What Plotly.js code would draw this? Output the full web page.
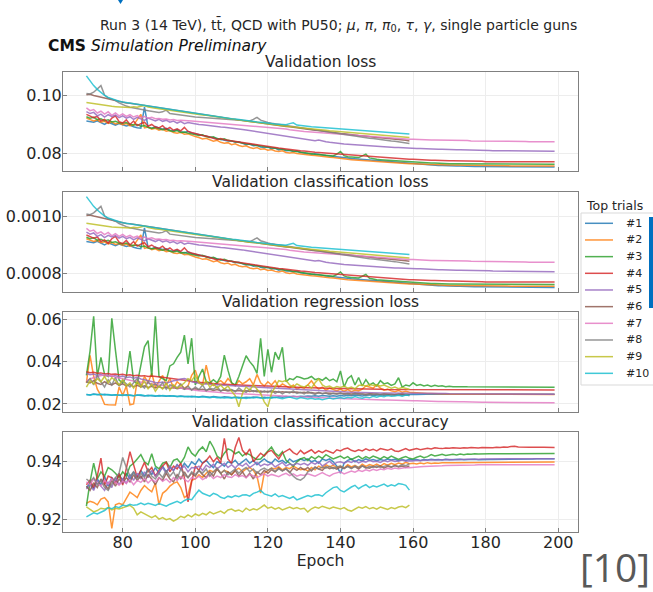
<!DOCTYPE html>
<html><head><meta charset="utf-8">
<script src="https://cdn.plot.ly/plotly-3.0.1.min.js"></script>
<style>html,body{margin:0;padding:0;background:#fff;}#chart{width:653px;height:592px;}</style>
</head><body><div id="chart"></div>
<script>
const epochs = [70,71,72,73,74,75,76,77,78,79,80,81,82,83,84,85,86,87,88,89,90,91,92,93,94,95,96,97,98,99,
100,101,102,103,104,105,106,107,108,109,110,111,112,113,114,115,116,117,118,119,120,121,122,123,124,125,126,127,128,129,
130,131,132,133,134,135,136,137,138,139,140,141,142,143,144,145,146,147,148,149,150,151,152,153,154,155,156,157,158,159,
160,161,162,163,164,165,166,167,168,169,170,171,172,173,174,175,176,177,178,179,180,181,182,183,184,185,186,187,188,189,
190,191,192,193,194,195,196,197,198,199];
const trials = ['#1','#2','#3','#4','#5','#6','#7','#8','#9','#10'];
const colors = ['#1f77b4','#ff7f0e','#2ca02c','#d62728','#9467bd','#8c564b','#e377c2','#7f7f7f','#bcbd22','#17becf'];
const panelTitles = ['Validation loss','Validation classification loss','Validation regression loss','Validation classification accuracy'];

// ---- Validation loss ----
const lossT1 = [.0912,.0910,.0908,.0913,.0905,.0900,.0908,.0902,.0898,.0903,.0900,.0895,.0898,.0892,.0889,.0887,.0960,.0890,.0886,.0893,
.0888,.0884,.0887,.0880,.0878,.0882,.0875,.0872,.0876,.0870,.0868,.0865,.0862,.0860,.0856,.0853,.0851,.0848,.0846,.0843,
.0843,.0838,.0840,.0834,.0830,.0832,.0826,.0828,.0822,.0820,.0822,.0816,.0818,.0812,.0815,.0809,.0810,.0806,.0808,.0803,
.0801,.0800,.0797,.0798,.0795,.0794,.0792,.0791,.0789,.0788,.0787,.0785,.0784,.0782,.0781,.0780,.0778,.0777,.0776,.0775,
.0774,.0772,.0771,.0770,.0769,.0768,.0767,.0766,.0765,.0764,.0763,.0762,.0761,.0761,.0760,.0759,.0759,.0758,.0758,.0757,
.0757,.0756,.0756,.0756,.0755,.0755,.0755,.0754,.0754,.0754,.0754,.0753,.0753,.0753,.0753,.0753,.0752,.0752,.0752,.0752,
.0752,.0752,.0752,.0752,.0752,.0752,.0752,.0752,.0752,.0752];
const lossT2 = [.0922,.0918,.0912,.0916,.0908,.0911,.0904,.0909,.0902,.0905,.0899,.0903,.0896,.0898,.0915,.0935,.0888,.0891,.0884,.0887,
.0880,.0883,.0877,.0879,.0872,.0870,.0873,.0866,.0868,.0862,.0858,.0855,.0850,.0852,.0846,.0842,.0845,.0838,.0835,.0837,
.0830,.0833,.0827,.0824,.0826,.0820,.0817,.0820,.0814,.0816,.0811,.0813,.0808,.0806,.0809,.0803,.0801,.0803,.0799,.0797,
.0797,.0795,.0793,.0792,.0790,.0789,.0787,.0786,.0785,.0783,.0782,.0781,.0779,.0778,.0777,.0776,.0775,.0774,.0773,.0772,
.0771,.0770,.0769,.0768,.0767,.0767,.0766,.0765,.0765,.0764,.0764,.0763,.0763,.0762,.0762,.0761,.0761,.0760,.0760,.0760,
.0759,.0759,.0759,.0758,.0758,.0758,.0758,.0758,.0757,.0757,.0757,.0757,.0757,.0757,.0757,.0757,.0757,.0756,.0756,.0756,
.0756,.0756,.0756,.0756,.0756,.0756,.0756,.0756,.0756,.0756];
const lossT3 = [.0927,.0922,.0925,.0917,.0920,.0913,.0916,.0909,.0911,.0906,.0904,.0907,.0901,.0898,.0900,.0894,.0896,.0890,.0887,.0889,
.0885,.0882,.0884,.0878,.0876,.0879,.0872,.0874,.0870,.0867,.0866,.0862,.0864,.0858,.0855,.0857,.0851,.0848,.0850,.0845,
.0843,.0840,.0838,.0836,.0833,.0831,.0829,.0827,.0825,.0823,.0821,.0819,.0817,.0815,.0813,.0811,.0809,.0807,.0805,.0803,
.0802,.0800,.0799,.0797,.0796,.0795,.0793,.0792,.0791,.0797,.0806,.0792,.0788,.0787,.0786,.0785,.0791,.0797,.0784,.0781,
.0779,.0778,.0777,.0776,.0775,.0774,.0773,.0772,.0771,.0770,.0769,.0768,.0768,.0767,.0767,.0766,.0766,.0765,.0765,.0765,
.0764,.0764,.0764,.0764,.0763,.0763,.0763,.0763,.0763,.0763,.0763,.0763,.0763,.0763,.0763,.0763,.0763,.0763,.0763,.0763,
.0763,.0763,.0763,.0762,.0762,.0762,.0762,.0762,.0762,.0762];
const lossT4 = [.0935,.0930,.0924,.0928,.0912,.0918,.0906,.0922,.0930,.0910,.0905,.0916,.0900,.0912,.0896,.0903,.0908,.0894,.0900,.0891,
.0888,.0896,.0883,.0890,.0880,.0885,.0878,.0890,.0876,.0872,.0868,.0865,.0862,.0860,.0857,.0852,.0848,.0851,.0847,.0845,
.0842,.0840,.0838,.0836,.0834,.0832,.0830,.0828,.0826,.0825,.0823,.0821,.0820,.0818,.0817,.0815,.0813,.0812,.0810,.0809,
.0808,.0806,.0805,.0804,.0803,.0802,.0800,.0799,.0798,.0797,.0796,.0795,.0794,.0793,.0792,.0791,.0790,.0789,.0788,.0787,
.0786,.0785,.0784,.0784,.0783,.0782,.0781,.0781,.0780,.0779,.0779,.0778,.0778,.0777,.0777,.0776,.0776,.0775,.0775,.0775,
.0774,.0774,.0774,.0773,.0773,.0773,.0772,.0772,.0772,.0772,.0771,.0771,.0771,.0771,.0771,.0771,.0771,.0771,.0771,.0771,
.0771,.0771,.0771,.0771,.0771,.0771,.0771,.0771,.0771,.0771];
const lossT5 = [.0945,.0938,.0942,.0930,.0936,.0926,.0934,.0928,.0933,.0924,.0930,.0922,.0927,.0918,.0925,.0920,.0914,.0922,.0917,.0912,
.0918,.0911,.0915,.0908,.0912,.0905,.0910,.0903,.0907,.0904,.0902,.0900,.0899,.0897,.0896,.0894,.0893,.0891,.0890,.0889,
.0888,.0886,.0884,.0883,.0881,.0879,.0877,.0875,.0873,.0871,.0869,.0868,.0866,.0864,.0862,.0860,.0858,.0856,.0854,.0851,
.0849,.0847,.0846,.0844,.0846,.0842,.0840,.0838,.0836,.0834,.0833,.0832,.0831,.0830,.0829,.0828,.0827,.0826,.0825,.0824,
.0824,.0823,.0822,.0822,.0821,.0820,.0820,.0819,.0819,.0818,.0818,.0817,.0817,.0816,.0816,.0815,.0815,.0814,.0814,.0813,
.0813,.0813,.0812,.0812,.0812,.0811,.0811,.0811,.0810,.0810,.0810,.0810,.0809,.0809,.0809,.0809,.0808,.0808,.0808,.0808,
.0808,.0807,.0807,.0807,.0807,.0807,.0807,.0807,.0807,.0807];
const lossT6 = [.1003,.1005,.1001,.0998,.0995,.0991,.0988,.0986,.0983,.0980,.0977,.0975,.0974,.0972,.0970,.0968,.0966,.0964,.0962,.0960,
.0958,.0956,.0954,.0952,.0950,.0948,.0946,.0944,.0942,.0940,.0938,.0936,.0934,.0932,.0930,.0928,.0926,.0924,.0922,.0920,
.0918,.0917,.0915,.0914,.0912,.0910,.0909,.0907,.0905,.0904,.0902,.0900,.0899,.0897,.0895,.0893,.0892,.0890,.0888,.0887,
.0885,.0884,.0882,.0880,.0879,.0877,.0876,.0874,.0872,.0871,.0869,.0868,.0866,.0865,.0863,.0862,.0861,.0859,.0858,.0857,
.0855,.0854,.0853,.0851,.0850,.0849,.0848,.0846,.0845,.0843];
const lossT7 = [.0958,.0948,.0952,.0940,.0946,.0936,.0944,.0932,.0940,.0930,.0937,.0928,.0934,.0926,.0931,.0924,.0928,.0922,.0925,.0920,
.0921,.0918,.0919,.0916,.0917,.0914,.0915,.0913,.0913,.0912,.0911,.0910,.0909,.0908,.0907,.0906,.0905,.0904,.0903,.0902,
.0901,.0900,.0899,.0898,.0897,.0896,.0895,.0894,.0892,.0891,.0889,.0888,.0887,.0886,.0885,.0884,.0882,.0880,.0879,.0877,
.0876,.0875,.0874,.0873,.0872,.0871,.0870,.0869,.0868,.0867,.0866,.0865,.0864,.0863,.0862,.0861,.0860,.0860,.0859,.0858,
.0857,.0856,.0855,.0854,.0853,.0852,.0852,.0851,.0850,.0849,.0849,.0848,.0848,.0847,.0847,.0846,.0846,.0846,.0845,.0845,
.0845,.0845,.0844,.0844,.0844,.0844,.0843,.0843,.0843,.0843,.0843,.0842,.0842,.0842,.0842,.0842,.0841,.0841,.0841,.0841,
.0841,.0841,.0840,.0840,.0840,.0840,.0840,.0840,.0840,.0840];
const lossT8 = [.1008,.1006,.1012,.1025,.1035,.1002,.0992,.0988,.0983,.0975,.0968,.0964,.0960,.0957,.0955,.0952,.0950,.0948,.0946,.0945,
.0942,.0944,.0950,.0938,.0936,.0934,.0933,.0931,.0930,.0928,.0926,.0925,.0924,.0922,.0921,.0920,.0919,.0918,.0917,.0916,
.0915,.0914,.0913,.0912,.0911,.0912,.0918,.0925,.0915,.0910,.0907,.0904,.0902,.0900,.0898,.0896,.0894,.0892,.0890,.0888,
.0886,.0884,.0882,.0880,.0878,.0876,.0874,.0872,.0870,.0868,.0866,.0864,.0862,.0861,.0859,.0857,.0856,.0854,.0852,.0851,
.0849,.0848,.0846,.0845,.0843,.0842,.0840,.0838,.0836,.0834];
const lossT9 = [.0976,.0974,.0971,.0969,.0967,.0966,.0964,.0963,.0962,.0961,.0960,.0961,.0959,.0962,.0960,.0963,.0966,.0961,.0958,.0956,
.0955,.0953,.0951,.0950,.0948,.0946,.0944,.0942,.0941,.0939,.0937,.0935,.0933,.0932,.0930,.0928,.0926,.0924,.0922,.0920,
.0918,.0917,.0915,.0914,.0912,.0910,.0909,.0907,.0905,.0904,.0902,.0900,.0899,.0897,.0896,.0894,.0893,.0891,.0890,.0889,
.0888,.0886,.0885,.0884,.0882,.0881,.0880,.0878,.0877,.0876,.0875,.0874,.0873,.0871,.0870,.0869,.0868,.0867,.0866,.0865,
.0864,.0863,.0862,.0861,.0860,.0859,.0858,.0857,.0856,.0855];
const lossT10 = [.1069,.1050,.1035,.1022,.1010,.1001,.0994,.0989,.0985,.0981,.0978,.0976,.0974,.0972,.0970,.0968,.0967,.0965,.0964,.0962,
.0960,.0958,.0956,.0954,.0952,.0950,.0948,.0946,.0944,.0942,.0940,.0938,.0936,.0934,.0932,.0930,.0928,.0926,.0924,.0922,
.0920,.0919,.0917,.0916,.0914,.0912,.0911,.0909,.0908,.0906,.0905,.0903,.0902,.0901,.0900,.0899,.0903,.0906,.0898,.0896,
.0895,.0893,.0892,.0891,.0890,.0889,.0888,.0887,.0886,.0885,.0884,.0883,.0882,.0881,.0880,.0879,.0878,.0877,.0876,.0875,
.0875,.0874,.0873,.0872,.0871,.0871,.0870,.0869,.0868,.0867];

// ---- Validation classification loss ----
const clsT1 = [.000912,.000910,.000908,.000913,.000905,.000900,.000908,.000902,.000898,.000903,.000900,.000895,.000898,.000892,.000889,.000887,.000960,.000890,.000886,.000893,
.000888,.000884,.000887,.000880,.000878,.000882,.000875,.000872,.000876,.000870,.000868,.000865,.000862,.000860,.000856,.000853,.000851,.000848,.000846,.000843,
.000843,.000838,.000840,.000834,.000830,.000832,.000826,.000828,.000822,.000820,.000822,.000816,.000818,.000812,.000815,.000809,.000810,.000806,.000808,.000803,
.000801,.000800,.000797,.000798,.000795,.000794,.000792,.000791,.000789,.000788,.000787,.000785,.000784,.000782,.000781,.000780,.000778,.000777,.000776,.000775,
.000774,.000772,.000771,.000770,.000769,.000768,.000767,.000766,.000765,.000764,.000763,.000762,.000761,.000761,.000760,.000759,.000759,.000758,.000758,.000757,
.000757,.000756,.000756,.000756,.000755,.000755,.000755,.000754,.000754,.000754,.000754,.000753,.000753,.000753,.000753,.000753,.000752,.000752,.000752,.000752,
.000752,.000752,.000752,.000752,.000752,.000752,.000752,.000752,.000752,.000752];
const clsT2 = [.000922,.000918,.000912,.000916,.000908,.000911,.000904,.000909,.000902,.000905,.000899,.000903,.000896,.000898,.000915,.000935,.000888,.000891,.000884,.000887,
.000880,.000883,.000877,.000879,.000872,.000870,.000873,.000866,.000868,.000862,.000858,.000855,.000850,.000852,.000846,.000842,.000845,.000838,.000835,.000837,
.000830,.000833,.000827,.000824,.000826,.000820,.000817,.000820,.000814,.000816,.000811,.000813,.000808,.000806,.000809,.000803,.000801,.000803,.000799,.000797,
.000797,.000795,.000793,.000792,.000790,.000789,.000787,.000786,.000785,.000783,.000782,.000781,.000779,.000778,.000777,.000776,.000775,.000774,.000773,.000772,
.000771,.000770,.000769,.000768,.000767,.000767,.000766,.000765,.000765,.000764,.000764,.000763,.000763,.000762,.000762,.000761,.000761,.000760,.000760,.000760,
.000759,.000759,.000759,.000758,.000758,.000758,.000758,.000758,.000757,.000757,.000757,.000757,.000757,.000757,.000757,.000757,.000757,.000756,.000756,.000756,
.000756,.000756,.000756,.000756,.000756,.000756,.000756,.000756,.000756,.000756];
const clsT3 = [.000927,.000922,.000925,.000917,.000920,.000913,.000916,.000909,.000911,.000906,.000904,.000907,.000901,.000898,.000900,.000894,.000896,.000890,.000887,.000889,
.000885,.000882,.000884,.000878,.000876,.000879,.000872,.000874,.000870,.000867,.000866,.000862,.000864,.000858,.000855,.000857,.000851,.000848,.000850,.000845,
.000843,.000840,.000838,.000836,.000833,.000831,.000829,.000827,.000825,.000823,.000821,.000819,.000817,.000815,.000813,.000811,.000809,.000807,.000805,.000803,
.000802,.000800,.000799,.000797,.000796,.000795,.000793,.000792,.000791,.000797,.000806,.000792,.000788,.000787,.000786,.000785,.000791,.000797,.000784,.000781,
.000779,.000778,.000777,.000776,.000775,.000774,.000773,.000772,.000771,.000770,.000769,.000768,.000768,.000767,.000767,.000766,.000766,.000765,.000765,.000765,
.000764,.000764,.000764,.000764,.000763,.000763,.000763,.000763,.000763,.000763,.000763,.000763,.000763,.000763,.000763,.000763,.000763,.000763,.000763,.000763,
.000763,.000763,.000763,.000762,.000762,.000762,.000762,.000762,.000762,.000762];
const clsT4 = [.000935,.000930,.000924,.000928,.000912,.000918,.000906,.000922,.000930,.000910,.000905,.000916,.000900,.000912,.000896,.000903,.000908,.000894,.000900,.000891,
.000888,.000896,.000883,.000890,.000880,.000885,.000878,.000890,.000876,.000872,.000868,.000865,.000862,.000860,.000857,.000852,.000848,.000851,.000847,.000845,
.000842,.000840,.000838,.000836,.000834,.000832,.000830,.000828,.000826,.000825,.000823,.000821,.000820,.000818,.000817,.000815,.000813,.000812,.000810,.000809,
.000808,.000806,.000805,.000804,.000803,.000802,.000800,.000799,.000798,.000797,.000796,.000795,.000794,.000793,.000792,.000791,.000790,.000789,.000788,.000787,
.000786,.000785,.000784,.000784,.000783,.000782,.000781,.000781,.000780,.000779,.000779,.000778,.000778,.000777,.000777,.000776,.000776,.000775,.000775,.000775,
.000774,.000774,.000774,.000773,.000773,.000773,.000772,.000772,.000772,.000772,.000771,.000771,.000771,.000771,.000771,.000771,.000771,.000771,.000771,.000771,
.000771,.000771,.000771,.000771,.000771,.000771,.000771,.000771,.000771,.000771];
const clsT5 = [.000945,.000938,.000942,.000930,.000936,.000926,.000934,.000928,.000933,.000924,.000930,.000922,.000927,.000918,.000925,.000920,.000914,.000922,.000917,.000912,
.000918,.000911,.000915,.000908,.000912,.000905,.000910,.000903,.000907,.000904,.000902,.000900,.000899,.000897,.000896,.000894,.000893,.000891,.000890,.000889,
.000888,.000886,.000884,.000883,.000881,.000879,.000877,.000875,.000873,.000871,.000869,.000868,.000866,.000864,.000862,.000860,.000858,.000856,.000854,.000851,
.000849,.000847,.000846,.000844,.000846,.000842,.000840,.000838,.000836,.000834,.000833,.000832,.000831,.000830,.000829,.000828,.000827,.000826,.000825,.000824,
.000824,.000823,.000822,.000822,.000821,.000820,.000820,.000819,.000819,.000818,.000818,.000817,.000817,.000816,.000816,.000815,.000815,.000814,.000814,.000813,
.000813,.000813,.000812,.000812,.000812,.000811,.000811,.000811,.000810,.000810,.000810,.000810,.000809,.000809,.000809,.000809,.000808,.000808,.000808,.000808,
.000808,.000807,.000807,.000807,.000807,.000807,.000807,.000807,.000807,.000807];
const clsT6 = [.001003,.001005,.001001,.000998,.000995,.000991,.000988,.000986,.000983,.000980,.000977,.000975,.000974,.000972,.000970,.000968,.000966,.000964,.000962,.000960,
.000958,.000956,.000954,.000952,.000950,.000948,.000946,.000944,.000942,.000940,.000938,.000936,.000934,.000932,.000930,.000928,.000926,.000924,.000922,.000920,
.000918,.000917,.000915,.000914,.000912,.000910,.000909,.000907,.000905,.000904,.000902,.000900,.000899,.000897,.000895,.000893,.000892,.000890,.000888,.000887,
.000885,.000884,.000882,.000880,.000879,.000877,.000876,.000874,.000872,.000871,.000869,.000868,.000866,.000865,.000863,.000862,.000861,.000859,.000858,.000857,
.000855,.000854,.000853,.000851,.000850,.000849,.000848,.000846,.000845,.000843];
const clsT7 = [.000958,.000948,.000952,.000940,.000946,.000936,.000944,.000932,.000940,.000930,.000937,.000928,.000934,.000926,.000931,.000924,.000928,.000922,.000925,.000920,
.000921,.000918,.000919,.000916,.000917,.000914,.000915,.000913,.000913,.000912,.000911,.000910,.000909,.000908,.000907,.000906,.000905,.000904,.000903,.000902,
.000901,.000900,.000899,.000898,.000897,.000896,.000895,.000894,.000892,.000891,.000889,.000888,.000887,.000886,.000885,.000884,.000882,.000880,.000879,.000877,
.000876,.000875,.000874,.000873,.000872,.000871,.000870,.000869,.000868,.000867,.000866,.000865,.000864,.000863,.000862,.000861,.000860,.000860,.000859,.000858,
.000857,.000856,.000855,.000854,.000853,.000852,.000852,.000851,.000850,.000849,.000849,.000848,.000848,.000847,.000847,.000846,.000846,.000846,.000845,.000845,
.000845,.000845,.000844,.000844,.000844,.000844,.000843,.000843,.000843,.000843,.000843,.000842,.000842,.000842,.000842,.000842,.000841,.000841,.000841,.000841,
.000841,.000841,.000840,.000840,.000840,.000840,.000840,.000840,.000840,.000840];
const clsT8 = [.001008,.001006,.001012,.001025,.001035,.001002,.000992,.000988,.000983,.000975,.000968,.000964,.000960,.000957,.000955,.000952,.000950,.000948,.000946,.000945,
.000942,.000944,.000950,.000938,.000936,.000934,.000933,.000931,.000930,.000928,.000926,.000925,.000924,.000922,.000921,.000920,.000919,.000918,.000917,.000916,
.000915,.000914,.000913,.000912,.000911,.000912,.000918,.000925,.000915,.000910,.000907,.000904,.000902,.000900,.000898,.000896,.000894,.000892,.000890,.000888,
.000886,.000884,.000882,.000880,.000878,.000876,.000874,.000872,.000870,.000868,.000866,.000864,.000862,.000861,.000859,.000857,.000856,.000854,.000852,.000851,
.000849,.000848,.000846,.000845,.000843,.000842,.000840,.000838,.000836,.000834];
const clsT9 = [.000976,.000974,.000971,.000969,.000967,.000966,.000964,.000963,.000962,.000961,.000960,.000961,.000959,.000962,.000960,.000963,.000966,.000961,.000958,.000956,
.000955,.000953,.000951,.000950,.000948,.000946,.000944,.000942,.000941,.000939,.000937,.000935,.000933,.000932,.000930,.000928,.000926,.000924,.000922,.000920,
.000918,.000917,.000915,.000914,.000912,.000910,.000909,.000907,.000905,.000904,.000902,.000900,.000899,.000897,.000896,.000894,.000893,.000891,.000890,.000889,
.000888,.000886,.000885,.000884,.000882,.000881,.000880,.000878,.000877,.000876,.000875,.000874,.000873,.000871,.000870,.000869,.000868,.000867,.000866,.000865,
.000864,.000863,.000862,.000861,.000860,.000859,.000858,.000857,.000856,.000855];
const clsT10 = [.001069,.001050,.001035,.001022,.001010,.001001,.000994,.000989,.000985,.000981,.000978,.000976,.000974,.000972,.000970,.000968,.000967,.000965,.000964,.000962,
.000960,.000958,.000956,.000954,.000952,.000950,.000948,.000946,.000944,.000942,.000940,.000938,.000936,.000934,.000932,.000930,.000928,.000926,.000924,.000922,
.000920,.000919,.000917,.000916,.000914,.000912,.000911,.000909,.000908,.000906,.000905,.000903,.000902,.000901,.000900,.000899,.000903,.000906,.000898,.000896,
.000895,.000893,.000892,.000891,.000890,.000889,.000888,.000887,.000886,.000885,.000884,.000883,.000882,.000881,.000880,.000879,.000878,.000877,.000876,.000875,
.000875,.000874,.000873,.000872,.000871,.000871,.000870,.000869,.000868,.000867];

// ---- Validation regression loss ----
const regT1 = [.0245,.0243,.0247,.0244,.0242,.0246,.0243,.0241,.0244,.0242,.0240,.0243,.0241,.0239,.0242,.0240,.0238,.0241,.0239,.0237,
.0240,.0238,.0236,.0239,.0237,.0235,.0238,.0236,.0234,.0237,.0235,.0233,.0236,.0234,.0232,.0235,.0233,.0231,.0234,.0232,
.0230,.0233,.0231,.0229,.0232,.0230,.0233,.0231,.0229,.0232,.0230,.0233,.0231,.0234,.0232,.0235,.0233,.0236,.0234,.0237,
.0235,.0238,.0236,.0239,.0237,.0240,.0238,.0236,.0239,.0237,.0240,.0238,.0241,.0239,.0242,.0240,.0238,.0241,.0243,.0240,
.0242,.0244,.0241,.0243,.0245,.0242,.0244,.0246,.0243,.0245,.0246,.0245,.0246,.0247,.0246,.0246,.0247,.0246,.0246,.0246,
.0246,.0246,.0246,.0246,.0246,.0246,.0246,.0246,.0246,.0246,.0246,.0246,.0246,.0246,.0246,.0246,.0246,.0246,.0246,.0246,
.0246,.0246,.0246,.0246,.0246,.0246,.0246,.0246,.0246,.0246];
const regT2 = [.0300,.0430,.0330,.0270,.0240,.0198,.0196,.0197,.0195,.0280,.0240,.0285,.0196,.0200,.0310,.0280,.0330,.0300,.0345,.0280,
.0310,.0335,.0290,.0320,.0275,.0305,.0290,.0275,.0285,.0335,.0360,.0305,.0290,.0384,.0310,.0288,.0300,.0310,.0295,.0320,
.0300,.0285,.0310,.0295,.0305,.0320,.0290,.0340,.0300,.0285,.0305,.0290,.0310,.0280,.0295,.0285,.0275,.0290,.0270,.0280,
.0275,.0290,.0310,.0285,.0270,.0280,.0265,.0275,.0268,.0262,.0270,.0260,.0268,.0258,.0265,.0262,.0270,.0285,.0280,.0275,
.0290,.0275,.0265,.0270,.0262,.0258,.0264,.0256,.0260,.0255,.0254,.0252,.0251,.0250,.0249,.0249,.0248,.0248,.0247,.0247,
.0246,.0246,.0246,.0246,.0246,.0246,.0246,.0246,.0246,.0246,.0245,.0245,.0245,.0245,.0245,.0245,.0245,.0245,.0245,.0245,
.0245,.0245,.0245,.0245,.0245,.0245,.0245,.0245,.0245,.0245];
const regT3 = [.0335,.0450,.0615,.0330,.0420,.0340,.0330,.0605,.0455,.0313,.0300,.0330,.0450,.0310,.0295,.0380,.0470,.0500,.0330,.0615,
.0330,.0320,.0310,.0380,.0390,.0420,.0445,.0526,.0390,.0511,.0290,.0330,.0365,.0305,.0300,.0315,.0300,.0330,.0431,.0360,
.0300,.0290,.0330,.0380,.0428,.0400,.0380,.0345,.0510,.0330,.0458,.0350,.0445,.0410,.0468,.0305,.0320,.0315,.0330,.0325,
.0318,.0322,.0330,.0315,.0320,.0312,.0325,.0310,.0318,.0305,.0356,.0280,.0320,.0334,.0290,.0325,.0285,.0315,.0290,.0300,
.0285,.0310,.0295,.0300,.0288,.0295,.0324,.0280,.0290,.0285,.0300,.0288,.0292,.0285,.0290,.0283,.0288,.0284,.0286,.0282,
.0284,.0282,.0283,.0281,.0282,.0281,.0281,.0280,.0281,.0280,.0280,.0280,.0280,.0280,.0280,.0280,.0280,.0280,.0280,.0280,
.0279,.0279,.0279,.0279,.0279,.0279,.0279,.0279,.0279,.0279];
const regT4 = [.0352,.0348,.0350,.0345,.0347,.0342,.0344,.0340,.0342,.0338,.0340,.0336,.0338,.0334,.0336,.0332,.0334,.0330,.0332,.0329,
.0328,.0326,.0324,.0322,.0320,.0318,.0316,.0313,.0310,.0307,.0304,.0302,.0300,.0298,.0297,.0295,.0294,.0293,.0293,.0292,
.0291,.0291,.0290,.0290,.0289,.0288,.0288,.0287,.0286,.0285,.0285,.0284,.0283,.0282,.0282,.0281,.0280,.0280,.0279,.0278,
.0278,.0277,.0277,.0276,.0276,.0275,.0275,.0274,.0274,.0273,.0273,.0273,.0272,.0272,.0272,.0271,.0271,.0271,.0270,.0270,
.0270,.0270,.0269,.0269,.0269,.0269,.0268,.0268,.0268,.0268,.0268,.0268,.0268,.0268,.0268,.0268,.0268,.0268,.0268,.0268,
.0267,.0267,.0267,.0267,.0267,.0267,.0267,.0267,.0267,.0267,.0266,.0266,.0266,.0266,.0266,.0266,.0266,.0266,.0266,.0266,
.0266,.0266,.0266,.0266,.0266,.0266,.0266,.0266,.0266,.0266];
const regT5 = [.0345,.0338,.0342,.0335,.0340,.0332,.0336,.0330,.0334,.0328,.0332,.0325,.0328,.0322,.0326,.0318,.0315,.0310,.0306,.0302,
.0300,.0304,.0298,.0305,.0310,.0312,.0318,.0320,.0315,.0305,.0300,.0298,.0295,.0296,.0293,.0292,.0294,.0290,.0289,.0287,
.0286,.0285,.0284,.0283,.0282,.0281,.0280,.0279,.0278,.0277,.0276,.0275,.0274,.0273,.0272,.0271,.0270,.0269,.0268,.0267,
.0266,.0265,.0264,.0263,.0263,.0262,.0261,.0260,.0260,.0259,.0258,.0258,.0257,.0256,.0256,.0255,.0255,.0254,.0254,.0253,
.0253,.0252,.0252,.0252,.0251,.0251,.0250,.0250,.0250,.0249,.0249,.0249,.0249,.0249,.0249,.0249,.0249,.0249,.0249,.0249,
.0248,.0248,.0248,.0248,.0248,.0248,.0248,.0248,.0248,.0248,.0247,.0247,.0247,.0247,.0247,.0247,.0247,.0247,.0247,.0247,
.0246,.0246,.0246,.0246,.0246,.0246,.0246,.0246,.0246,.0246];
const regT6 = [.0305,.0300,.0310,.0298,.0292,.0305,.0295,.0290,.0300,.0288,.0295,.0285,.0292,.0282,.0288,.0280,.0286,.0278,.0284,.0276,
.0282,.0275,.0280,.0273,.0278,.0272,.0276,.0270,.0274,.0268,.0272,.0267,.0270,.0265,.0269,.0264,.0268,.0263,.0266,.0262,
.0265,.0261,.0264,.0260,.0263,.0259,.0262,.0258,.0261,.0257,.0260,.0257,.0259,.0256,.0258,.0255,.0257,.0254,.0256,.0253,
.0255,.0252,.0254,.0251,.0253,.0250,.0252,.0250,.0251,.0249,.0251,.0248,.0250,.0247,.0249,.0247,.0248,.0246,.0248,.0246,
.0247,.0245,.0247,.0245,.0246,.0244,.0246,.0244,.0245,.0244];
const regT7 = [.0310,.0318,.0325,.0330,.0335,.0338,.0332,.0335,.0326,.0322,.0320,.0316,.0312,.0309,.0306,.0303,.0300,.0297,.0294,.0292,
.0290,.0287,.0285,.0282,.0280,.0277,.0275,.0272,.0270,.0267,.0265,.0263,.0262,.0260,.0258,.0257,.0255,.0254,.0252,.0251,
.0250,.0249,.0248,.0247,.0246,.0245,.0244,.0243,.0242,.0241,.0240,.0239,.0238,.0238,.0237,.0236,.0235,.0234,.0234,.0233,
.0232,.0231,.0231,.0230,.0229,.0229,.0228,.0228,.0227,.0227,.0226,.0225,.0225,.0224,.0224,.0223,.0222,.0222,.0221,.0221,
.0220,.0220,.0219,.0219,.0218,.0218,.0217,.0217,.0216,.0216,.0215,.0215,.0214,.0214,.0213,.0213,.0213,.0212,.0212,.0211,
.0211,.0211,.0210,.0210,.0210,.0209,.0209,.0209,.0208,.0208,.0208,.0208,.0207,.0207,.0207,.0207,.0207,.0206,.0206,.0206,
.0206,.0206,.0206,.0206,.0206,.0206,.0206,.0206,.0206,.0206];
const regT8 = [.0300,.0320,.0290,.0335,.0305,.0280,.0315,.0290,.0325,.0285,.0310,.0295,.0280,.0300,.0320,.0290,.0275,.0305,.0285,.0295,
.0280,.0300,.0270,.0290,.0285,.0275,.0295,.0270,.0285,.0265,.0280,.0268,.0290,.0262,.0275,.0270,.0282,.0260,.0272,.0265,
.0268,.0258,.0275,.0262,.0255,.0270,.0258,.0265,.0252,.0262,.0255,.0265,.0250,.0260,.0248,.0258,.0252,.0262,.0250,.0255,
.0248,.0258,.0250,.0245,.0255,.0248,.0252,.0244,.0250,.0246,.0252,.0245,.0248,.0242,.0250,.0244,.0247,.0241,.0246,.0243,
.0247,.0242,.0245,.0240,.0244,.0241,.0243,.0240,.0242,.0240];
const regT9 = [.0280,.0310,.0295,.0320,.0305,.0330,.0300,.0325,.0310,.0290,.0315,.0285,.0300,.0275,.0305,.0280,.0310,.0270,.0295,.0260,
.0285,.0270,.0300,.0265,.0290,.0275,.0285,.0300,.0320,.0310,.0335,.0300,.0290,.0310,.0280,.0295,.0275,.0290,.0270,.0285,
.0260,.0240,.0187,.0250,.0280,.0265,.0290,.0270,.0250,.0210,.0187,.0250,.0280,.0310,.0305,.0312,.0290,.0280,.0295,.0285,
.0280,.0290,.0275,.0300,.0318,.0290,.0280,.0285,.0275,.0282,.0278,.0285,.0275,.0280,.0272,.0288,.0290,.0285,.0292,.0288,
.0290,.0285,.0290,.0282,.0275,.0280,.0272,.0278,.0275,.0270];
const regT10 = [.0245,.0243,.0246,.0244,.0247,.0243,.0245,.0242,.0244,.0241,.0243,.0240,.0242,.0239,.0241,.0243,.0240,.0238,.0241,.0239,
.0237,.0240,.0238,.0236,.0239,.0235,.0237,.0234,.0236,.0233,.0235,.0232,.0234,.0231,.0230,.0233,.0229,.0231,.0228,.0230,
.0228,.0231,.0227,.0229,.0226,.0230,.0228,.0232,.0229,.0226,.0230,.0227,.0232,.0228,.0225,.0229,.0233,.0228,.0224,.0230,
.0226,.0223,.0227,.0222,.0225,.0220,.0224,.0228,.0223,.0226,.0230,.0226,.0232,.0228,.0235,.0230,.0227,.0233,.0229,.0236,
.0232,.0238,.0234,.0240,.0236,.0238,.0241,.0237,.0242,.0240];

// ---- Validation classification accuracy ----
const accT1 = [.9310,.9325,.9305,.9340,.9320,.9350,.9315,.9345,.9330,.9355,.9335,.9360,.9340,.9365,.9345,.9370,.9350,.9375,.9355,.9380,
.9360,.9385,.9365,.9380,.9370,.9390,.9375,.9395,.9380,.9400,.9390,.9410,.9395,.9405,.9390,.9380,.9400,.9395,.9385,.9400,
.9395,.9405,.9390,.9400,.9410,.9395,.9405,.9390,.9400,.9410,.9400,.9395,.9410,.9400,.9405,.9395,.9410,.9400,.9405,.9410,
.9405,.9410,.9400,.9405,.9395,.9410,.9405,.9410,.9400,.9385,.9360,.9395,.9405,.9410,.9400,.9408,.9403,.9410,.9405,.9408,
.9404,.9408,.9405,.9410,.9406,.9409,.9404,.9408,.9405,.9409,.9406,.9408,.9405,.9408,.9406,.9409,.9407,.9408,.9406,.9409,
.9407,.9408,.9407,.9409,.9407,.9408,.9408,.9409,.9407,.9408,.9408,.9408,.9408,.9408,.9408,.9408,.9408,.9408,.9408,.9408,
.9409,.9410,.9410,.9410,.9411,.9411,.9411,.9411,.9411,.9411];
const accT2 = [.9255,.9262,.9258,.9250,.9270,.9275,.9260,.9168,.9250,.9255,.9250,.9270,.9294,.9285,.9275,.9300,.9317,.9305,.9295,.9325,
.9250,.9290,.9300,.9315,.9325,.9330,.9310,.9275,.9285,.9335,.9340,.9355,.9345,.9360,.9370,.9365,.9375,.9360,.9370,.9365,
.9355,.9370,.9378,.9365,.9375,.9380,.9370,.9350,.9291,.9360,.9370,.9378,.9375,.9382,.9372,.9380,.9376,.9385,.9378,.9372,
.9375,.9368,.9380,.9372,.9385,.9378,.9390,.9382,.9388,.9380,.9385,.9378,.9390,.9382,.9388,.9380,.9392,.9384,.9390,.9386,
.9392,.9385,.9394,.9388,.9395,.9390,.9396,.9392,.9398,.9393,.9395,.9392,.9396,.9393,.9397,.9394,.9396,.9395,.9397,.9396,
.9397,.9397,.9397,.9397,.9397,.9397,.9397,.9397,.9397,.9397,.9398,.9398,.9398,.9398,.9398,.9398,.9398,.9398,.9398,.9398,
.9399,.9399,.9399,.9399,.9399,.9399,.9399,.9399,.9399,.9399];
const accT3 = [.9245,.9330,.9395,.9340,.9365,.9350,.9380,.9372,.9360,.9345,.9365,.9350,.9385,.9395,.9410,.9425,.9400,.9390,.9428,.9385,
.9375,.9395,.9400,.9380,.9405,.9410,.9395,.9415,.9452,.9430,.9420,.9440,.9452,.9435,.9472,.9450,.9420,.9410,.9430,.9445,
.9440,.9428,.9435,.9420,.9430,.9425,.9415,.9408,.9410,.9425,.9440,.9452,.9430,.9420,.9435,.9405,.9395,.9385,.9400,.9410,
.9415,.9405,.9418,.9410,.9420,.9412,.9425,.9418,.9410,.9415,.9420,.9412,.9418,.9408,.9415,.9420,.9410,.9418,.9412,.9420,
.9415,.9410,.9418,.9412,.9420,.9415,.9408,.9414,.9418,.9412,.9410,.9416,.9420,.9414,.9418,.9425,.9420,.9423,.9426,.9422,
.9424,.9426,.9424,.9427,.9425,.9427,.9426,.9428,.9427,.9428,.9428,.9428,.9428,.9428,.9428,.9428,.9428,.9428,.9428,.9428,
.9429,.9429,.9429,.9429,.9429,.9429,.9429,.9429,.9429,.9429];
const accT4 = [.9320,.9335,.9310,.9350,.9413,.9319,.9350,.9344,.9325,.9360,.9319,.9380,.9435,.9390,.9345,.9370,.9398,.9365,.9380,.9350,
.9370,.9385,.9398,.9365,.9385,.9375,.9395,.9345,.9260,.9330,.9385,.9370,.9395,.9405,.9420,.9400,.9415,.9395,.9482,.9410,
.9395,.9450,.9485,.9440,.9425,.9445,.9400,.9415,.9430,.9420,.9435,.9440,.9425,.9410,.9430,.9438,.9445,.9432,.9425,.9440,
.9428,.9435,.9442,.9430,.9438,.9432,.9440,.9435,.9430,.9442,.9438,.9445,.9448,.9440,.9436,.9442,.9438,.9445,.9440,.9444,
.9438,.9446,.9442,.9440,.9445,.9438,.9436,.9442,.9446,.9440,.9444,.9446,.9442,.9445,.9447,.9445,.9449,.9447,.9446,.9448,
.9447,.9449,.9448,.9447,.9449,.9448,.9450,.9449,.9448,.9450,.9449,.9450,.9449,.9451,.9450,.9452,.9451,.9453,.9454,.9452,
.9451,.9452,.9451,.9451,.9450,.9451,.9451,.9450,.9451,.9450];
const accT5 = [.9305,.9320,.9300,.9335,.9315,.9300,.9330,.9310,.9345,.9320,.9340,.9325,.9355,.9335,.9360,.9340,.9365,.9345,.9370,.9350,
.9365,.9380,.9360,.9385,.9370,.9390,.9375,.9385,.9365,.9380,.9378,.9385,.9370,.9388,.9380,.9392,.9375,.9385,.9395,.9380,
.9390,.9378,.9392,.9385,.9395,.9380,.9388,.9398,.9385,.9392,.9388,.9395,.9382,.9390,.9398,.9385,.9392,.9388,.9395,.9390,
.9395,.9388,.9398,.9392,.9400,.9385,.9395,.9402,.9390,.9398,.9400,.9395,.9402,.9398,.9404,.9396,.9402,.9399,.9405,.9400,
.9402,.9398,.9404,.9400,.9405,.9401,.9403,.9406,.9402,.9404,.9403,.9405,.9404,.9406,.9405,.9407,.9406,.9407,.9408,.9407,
.9408,.9407,.9408,.9409,.9408,.9409,.9409,.9408,.9409,.9410,.9410,.9410,.9410,.9410,.9410,.9410,.9410,.9410,.9410,.9410,
.9411,.9411,.9411,.9411,.9411,.9411,.9411,.9411,.9411,.9411];
const accT6 = [.9315,.9300,.9325,.9310,.9340,.9320,.9305,.9335,.9315,.9340,.9325,.9345,.9330,.9355,.9335,.9350,.9330,.9355,.9340,.9320,
.9345,.9335,.9360,.9340,.9330,.9355,.9340,.9365,.9345,.9360,.9350,.9370,.9355,.9345,.9365,.9350,.9375,.9360,.9340,.9365,
.9355,.9370,.9350,.9365,.9345,.9360,.9340,.9365,.9355,.9370,.9360,.9372,.9365,.9378,.9368,.9375,.9362,.9378,.9370,.9380,
.9372,.9380,.9368,.9382,.9375,.9370,.9383,.9376,.9380,.9374,.9382,.9376,.9385,.9378,.9383,.9375,.9386,.9380,.9378,.9384,
.9380,.9386,.9378,.9384,.9381,.9387,.9382,.9385,.9380,.9386];
const accT7 = [.9330,.9320,.9340,.9325,.9315,.9335,.9322,.9340,.9328,.9318,.9332,.9325,.9338,.9320,.9335,.9328,.9342,.9326,.9338,.9330,
.9345,.9332,.9340,.9328,.9345,.9335,.9348,.9338,.9330,.9345,.9340,.9350,.9338,.9345,.9355,.9342,.9350,.9345,.9355,.9348,
.9345,.9355,.9348,.9352,.9345,.9356,.9350,.9345,.9352,.9358,.9350,.9356,.9352,.9348,.9355,.9360,.9352,.9358,.9350,.9355,
.9352,.9358,.9354,.9350,.9356,.9362,.9355,.9350,.9358,.9362,.9365,.9358,.9362,.9368,.9364,.9370,.9366,.9372,.9368,.9374,
.9370,.9375,.9372,.9377,.9374,.9378,.9376,.9378,.9380,.9379,.9381,.9382,.9383,.9384,.9384,.9385,.9385,.9386,.9386,.9387,
.9387,.9388,.9388,.9388,.9389,.9389,.9389,.9389,.9390,.9390,.9390,.9390,.9390,.9390,.9390,.9390,.9390,.9390,.9390,.9390,
.9390,.9390,.9390,.9390,.9390,.9390,.9390,.9390,.9390,.9390];
const accT8 = [.9340,.9330,.9345,.9320,.9335,.9310,.9300,.9325,.9345,.9360,.9415,.9380,.9350,.9365,.9340,.9360,.9345,.9375,.9350,.9340,
.9360,.9345,.9370,.9350,.9365,.9340,.9375,.9355,.9345,.9365,.9355,.9370,.9360,.9375,.9350,.9365,.9378,.9360,.9370,.9355,
.9365,.9375,.9360,.9372,.9380,.9365,.9375,.9360,.9372,.9378,.9370,.9378,.9365,.9375,.9368,.9376,.9365,.9350,.9340,.9336,
.9345,.9365,.9372,.9380,.9375,.9382,.9378,.9384,.9376,.9382,.9385,.9378,.9383,.9376,.9385,.9380,.9386,.9378,.9384,.9380,
.9386,.9380,.9384,.9388,.9382,.9387,.9384,.9390,.9386,.9394];
const accT9 = [.9243,.9235,.9225,.9230,.9238,.9235,.9240,.9232,.9238,.9235,.9240,.9245,.9248,.9238,.9215,.9225,.9218,.9210,.9205,.9212,
.9200,.9205,.9198,.9202,.9193,.9200,.9210,.9205,.9215,.9208,.9218,.9212,.9220,.9215,.9225,.9218,.9222,.9228,.9220,.9232,
.9235,.9228,.9232,.9225,.9238,.9230,.9236,.9232,.9240,.9249,.9238,.9242,.9235,.9240,.9232,.9238,.9242,.9236,.9240,.9235,
.9238,.9225,.9236,.9242,.9238,.9245,.9240,.9236,.9242,.9238,.9235,.9240,.9232,.9228,.9236,.9242,.9238,.9244,.9236,.9240,
.9235,.9242,.9238,.9234,.9240,.9236,.9242,.9245,.9240,.9249];
const accT10 = [.9208,.9215,.9222,.9218,.9225,.9230,.9240,.9236,.9244,.9240,.9249,.9246,.9252,.9248,.9250,.9256,.9250,.9255,.9252,.9248,
.9254,.9250,.9245,.9252,.9258,.9262,.9256,.9265,.9270,.9268,.9285,.9301,.9290,.9284,.9280,.9290,.9285,.9276,.9272,.9280,
.9276,.9282,.9278,.9284,.9285,.9280,.9290,.9294,.9300,.9288,.9284,.9280,.9288,.9278,.9282,.9276,.9272,.9278,.9267,.9272,
.9276,.9282,.9278,.9284,.9285,.9280,.9292,.9300,.9310,.9313,.9300,.9295,.9305,.9312,.9318,.9306,.9314,.9320,.9310,.9316,
.9312,.9318,.9322,.9314,.9320,.9316,.9324,.9322,.9318,.9301];

const lossSeries = [lossT1,lossT2,lossT3,lossT4,lossT5,lossT6,lossT7,lossT8,lossT9,lossT10];
const clsSeries = [clsT1,clsT2,clsT3,clsT4,clsT5,clsT6,clsT7,clsT8,clsT9,clsT10];
const regSeries = [regT1,regT2,regT3,regT4,regT5,regT6,regT7,regT8,regT9,regT10];
const accSeries = [accT1,accT2,accT3,accT4,accT5,accT6,accT7,accT8,accT9,accT10];
const panels = [lossSeries, clsSeries, regSeries, accSeries];

const W = 653, H = 592;
const px = v => v / W;
const py = v => 1 - v / H;
const panelTop = [72, 192, 312, 432];
const panelBot = [171, 292, 412, 532];
const xL = 63, xR = 578;

const traces = [];
panels.forEach((series, p) => {
  const ax = p === 0 ? '' : String(p + 1);
  series.forEach((ys, i) => {
    traces.push({
      x: epochs.slice(0, ys.length), y: ys, type: 'scatter', mode: 'lines',
      name: trials[i], xaxis: 'x' + ax, yaxis: 'y' + ax,
      line: {color: colors[i], width: 1.5}, opacity: 0.82, showlegend: false, hoverinfo: 'skip'
    });
  });
});

const yRanges = [[0.07385, 0.10823], [0.000736, 0.001085], [0.0162, 0.0635], [0.9155, 0.9504]];
const yDticks = [0.02, 0.0002, 0.02, 0.02];
const yFormats = ['.2f', '.4f', '.2f', '.2f'];

const layout = {
  width: W, height: H, margin: {l: 0, r: 0, t: 0, b: 0},
  paper_bgcolor: '#ffffff', plot_bgcolor: '#ffffff',
  font: {family: 'DejaVu Sans', color: '#262626', size: 16},
  showlegend: false, annotations: [], shapes: []
};
for (let p = 0; p < 4; p++) {
  const ax = p === 0 ? '' : String(p + 1);
  layout['xaxis' + ax] = {
    domain: [px(xL), px(xR)], range: [63.55, 205.45], anchor: 'y' + ax,
    tick0: 0, dtick: 20, ticks: 'inside', ticklen: 4, tickcolor: '#808080',
    showline: true, mirror: true, linecolor: '#808080', linewidth: 1,
    showgrid: true, gridcolor: '#ededed', zeroline: false,
    showticklabels: p === 3, ticklabelstandoff: -4, tickfont: {size: 16, color: '#262626'}
  };
  layout['yaxis' + ax] = {
    domain: [py(panelBot[p]), py(panelTop[p])], range: yRanges[p], anchor: 'x' + ax,
    tick0: 0, dtick: yDticks[p], tickformat: yFormats[p], ticks: 'inside', ticklen: 4, tickcolor: '#808080',
    showline: true, mirror: true, linecolor: '#808080', linewidth: 1,
    showgrid: true, gridcolor: '#ededed', zeroline: false, ticklabelstandoff: -3,
    tickfont: {size: 16, color: '#262626'}
  };
  layout.annotations.push({
    text: panelTitles[p], xref: 'paper', yref: 'paper', x: px((xL + xR) / 2), y: py(panelTop[p] - 10),
    xanchor: 'center', yanchor: 'middle', showarrow: false, font: {size: 15.5, color: '#262626'}
  });
}
layout.xaxis4.title = {text: 'Epoch', font: {size: 15.5, color: '#262626'}, standoff: 2};

layout.annotations.push({
  text: 'Run 3 (14 TeV), tt\u0304, QCD with PU50; <i>\u03bc</i>, <i>\u03c0</i>, <i>\u03c0</i><sub>0</sub>, <i>\u03c4</i>, <i>\u03b3</i>, single particle guns',
  xref: 'paper', yref: 'paper', x: px(338), y: py(25), xanchor: 'center', yanchor: 'middle',
  showarrow: false, font: {size: 14, color: '#262626'}
});
layout.annotations.push({
  text: '<b>CMS</b> <i>Simulation Preliminary</i>',
  xref: 'paper', yref: 'paper', x: px(46), y: py(46), xanchor: 'left', yanchor: 'middle',
  showarrow: false, font: {size: 15.5, color: '#111111'}
});

// legend (Top trials)
layout.shapes.push({type: 'rect', xref: 'paper', yref: 'paper', x0: px(581), x1: px(662), y0: py(385), y1: py(213),
  line: {color: '#d9d9d9', width: 1}, fillcolor: 'rgba(255,255,255,0.85)', layer: 'above'});
layout.annotations.push({text: 'Top trials', xref: 'paper', yref: 'paper', x: px(584), y: py(205),
  xanchor: 'left', yanchor: 'middle', showarrow: false, font: {size: 12.5, color: '#262626'}});
trials.forEach((t, i) => {
  const yc = 223.3 + i * 16.67;
  layout.shapes.push({type: 'line', xref: 'paper', yref: 'paper', x0: px(585), x1: px(613), y0: py(yc), y1: py(yc),
    line: {color: colors[i], width: 1.5}, opacity: 0.82, layer: 'above'});
  layout.annotations.push({text: t, xref: 'paper', yref: 'paper', x: px(624), y: py(yc),
    xanchor: 'left', yanchor: 'middle', showarrow: false, font: {size: 11, color: '#262626'}});
});

// slide decorations
layout.shapes.push({type: 'rect', xref: 'paper', yref: 'paper', x0: px(649), x1: px(654), y0: py(308), y1: py(217),
  line: {width: 0}, fillcolor: '#0070C0', layer: 'above'});
layout.shapes.push({type: 'path', xref: 'paper', yref: 'paper',
  path: 'M ' + px(118) + ' ' + py(0) + ' L ' + px(123) + ' ' + py(0) + ' L ' + px(120.5) + ' ' + py(4) + ' Z',
  line: {width: 0}, fillcolor: '#0070C0', layer: 'above'});
layout.annotations.push({text: '[10]', xref: 'paper', yref: 'paper', x: px(652), y: py(566),
  xanchor: 'right', yanchor: 'middle', showarrow: false, font: {size: 39, color: '#595959', family: 'Open Sans'}});

Plotly.newPlot('chart', traces, layout, {displayModeBar: false, staticPlot: true});
</script></body></html>
